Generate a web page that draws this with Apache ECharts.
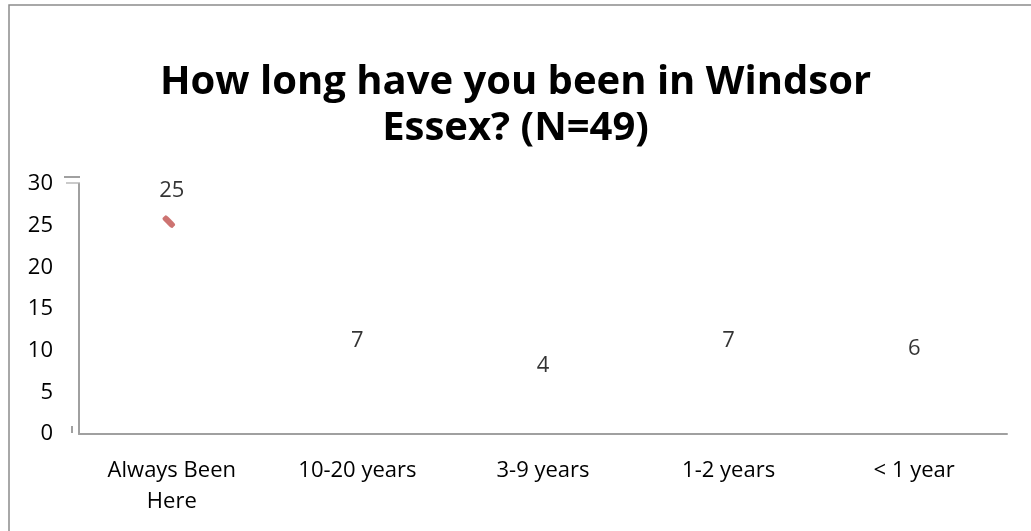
<!DOCTYPE html>
<html>
<head>
<meta charset="utf-8">
<script src="https://cdn.jsdelivr.net/npm/echarts@6/dist/echarts.min.js"></script>
<style>
  html, body { margin: 0; padding: 0; background: #fff; }
  #chart { width: 1031px; height: 531px; }
</style>
</head>
<body>
<div id="chart"></div>
<script>
// categories and counts
const categories = ['Always Been\nHere', '10-20 years', '3-9 years', '1-2 years', '< 1 year'];
const values = [25, 7, 4, 7, 6];
const yTicks = [0, 5, 10, 15, 20, 25, 30];

const font = '"Open Sans", Carlito, sans-serif';
const chart = echarts.init(document.getElementById('chart'));

chart.setOption({
  backgroundColor: '#fff',
  animation: false,
  title: {
    text: 'How long have you been in Windsor\nEssex? (N=49)',
    left: 'center',
    top: 55,
    textStyle: { fontFamily: font, fontWeight: 'bold', fontSize: 40, lineHeight: 46, color: '#000' }
  },
  grid: { left: 79, right: 24, top: 184, bottom: 97 },
  xAxis: {
    type: 'category',
    data: categories,
    axisLine: { lineStyle: { color: '#a0a0a0', width: 2 } },
    axisTick: { show: false },
    axisLabel: { fontFamily: font, fontSize: 22, color: '#000', lineHeight: 31, margin: 21, interval: 0 }
  },
  yAxis: {
    type: 'value',
    min: yTicks[0],
    max: yTicks[yTicks.length - 1],
    interval: 5,
    axisLine: { show: true, lineStyle: { color: '#a0a0a0', width: 2 } },
    axisTick: { show: false },
    splitLine: { show: false },
    axisLabel: { fontFamily: font, fontSize: 22, color: '#000', margin: 26 }
  },
  series: [
    {
      // labels only, the columns did not render
      type: 'scatter',
      data: values,
      symbolSize: 0,
      label: {
        show: true,
        position: 'inside',
        offset: [0, -35],
        fontFamily: font,
        fontSize: 22,
        color: '#000'
      }
    },
    {
      // the one red marker left over
      type: 'scatter',
      data: [[categories[0], values[0]]],
      symbol: 'roundRect',
      symbolSize: [14, 6],
      symbolRotate: -45,
      symbolOffset: [-3, -4],
      itemStyle: { color: '#c0504d' }
    }
  ],
  graphic: [
    { type: 'rect', shape: { x: 9, y: 5, width: 1040, height: 540 }, style: { fill: null, stroke: '#8c8c8c', lineWidth: 1.5 } },
    { type: 'line', shape: { x1: 64, y1: 177, x2: 80, y2: 177 }, style: { stroke: '#a0a0a0', lineWidth: 2 } },
    { type: 'line', shape: { x1: 66, y1: 183, x2: 80, y2: 183 }, style: { stroke: '#b8b8b8', lineWidth: 1.5 } },
    { type: 'line', shape: { x1: 72, y1: 426, x2: 72, y2: 433 }, style: { stroke: '#a0a0a0', lineWidth: 2 } }
  ]
});
</script>
</body>
</html>
